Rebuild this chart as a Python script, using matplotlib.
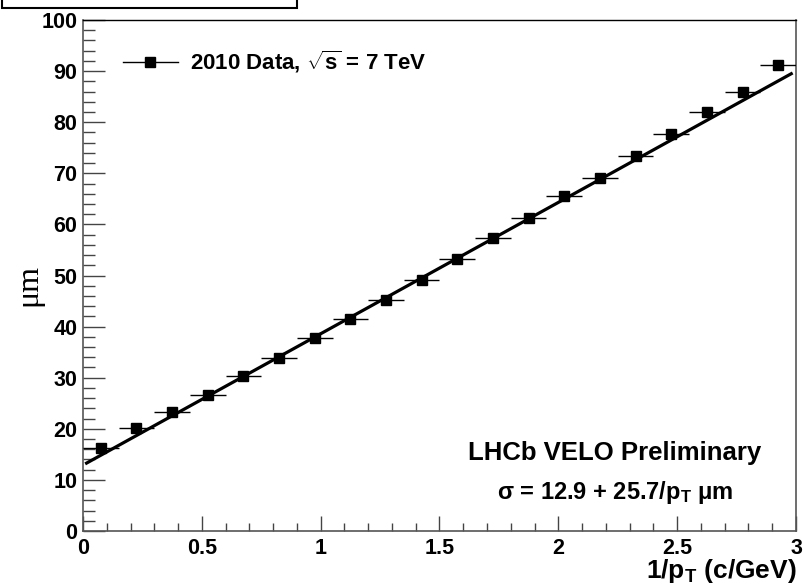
import numpy as np
import matplotlib
matplotlib.use("Agg")
import matplotlib.pyplot as plt
from matplotlib.patches import Rectangle
from matplotlib.ticker import MultipleLocator

plt.rcParams['font.family'] = ['Liberation Sans', 'DejaVu Sans']
plt.rcParams['font.weight'] = 'bold'
plt.rcParams['mathtext.fontset'] = 'custom'
plt.rcParams['mathtext.rm'] = 'Liberation Sans:bold'
plt.rcParams['mathtext.it'] = 'Liberation Sans:bold'
plt.rcParams['mathtext.bf'] = 'Liberation Sans:bold'

# binned resolution vs 1/pT
inv_pt = [0.075, 0.225, 0.375, 0.525, 0.675, 0.825, 0.975, 1.125, 1.275, 1.425,
          1.575, 1.725, 1.875, 2.025, 2.175, 2.325, 2.475, 2.625, 2.775, 2.925]
resolution = [16.3, 20.2, 23.2, 26.6, 30.3, 33.8, 37.7, 41.5, 45.2, 49.2,
              53.2, 57.3, 61.2, 65.5, 69.0, 73.4, 77.6, 81.9, 86.0, 91.2]
bin_half_width = [0.075] * len(inv_pt)

# fit: sigma = 12.9 + 25.7 / pT
fit_const = 12.9
fit_slope = 25.7
fit_range = (0.015, 2.98)

fig = plt.figure(figsize=(8.04, 5.87), dpi=100)
ax = fig.add_axes([83 / 804, 56 / 587, 713 / 804, 511 / 587])

xf = np.linspace(fit_range[0], fit_range[1], 50)
ax.plot(xf, fit_const + fit_slope * xf, color='black', lw=2.3, zorder=2)

ax.errorbar(inv_pt, resolution, xerr=bin_half_width, fmt='s', color='black',
            ms=6.5, lw=1.0, capsize=0, zorder=3)

ax.set_xlim(0, 3)
ax.set_ylim(0, 100)

ax.xaxis.set_major_locator(MultipleLocator(0.5))
ax.xaxis.set_minor_locator(MultipleLocator(0.1))
ax.yaxis.set_major_locator(MultipleLocator(10))
ax.yaxis.set_minor_locator(MultipleLocator(2))
ax.xaxis.set_major_formatter(plt.FuncFormatter(lambda v, p: '%g' % v))

ax.tick_params(axis='x', which='major', direction='in', length=11, width=1,
               labelsize=15.5, pad=5, color='#444444')
ax.tick_params(axis='x', which='minor', direction='in', length=6, width=1, color='#444444')
ax.tick_params(axis='y', which='major', direction='in', length=16, width=1,
               labelsize=15.5, pad=4, color='#444444')
ax.tick_params(axis='y', which='minor', direction='in', length=8.5, width=1, color='#444444')
for lab in ax.get_xticklabels() + ax.get_yticklabels():
    lab.set_fontweight('bold')

for side in ['left', 'bottom', 'right']:
    ax.spines[side].set_color('#555555')
    ax.spines[side].set_linewidth(1.2)
ax.spines['top'].set_color('black')
ax.spines['top'].set_linewidth(1.0)

# axis titles
fig.text(797 / 804, 1 - 578 / 587, r'1/p$_{T}$ (c/GeV)', ha='right', va='baseline',
         fontsize=19, fontweight='bold')
fig.text(29 / 804, 1 - 285 / 587, '\u03bcm', rotation=90, ha='center', va='center',
         fontsize=23, fontweight='normal', family=['Liberation Serif'])

# legend
ax.plot([0.168, 0.399], [91.8, 91.8], color='black', lw=1.0)
ax.plot([0.283], [91.8], 's', color='black', ms=6.5)
ax.text(0.45, 91.8, r'2010 Data, $\sqrt{s}$ = 7 TeV', ha='left', va='center',
        fontsize=16, fontweight='bold')

ax.text(0.951, 0.153, 'LHCb VELO Preliminary', transform=ax.transAxes,
        ha='right', va='center', fontsize=18.5, fontweight='bold')
ax.text(0.5806, 0.076, '\u03c3 = 12.9 + 25.7/p$_{T}$ \u03bcm', transform=ax.transAxes,
        ha='left', va='center', fontsize=17, fontweight='bold')

# truncated title box at the top
fig.patches.append(Rectangle((2 / 804, 1 - 8 / 587), 295 / 804, 20 / 587,
                             transform=fig.transFigure, facecolor='white',
                             edgecolor='black', lw=1.5, clip_on=False))

fig.savefig('out.png', dpi=100)
